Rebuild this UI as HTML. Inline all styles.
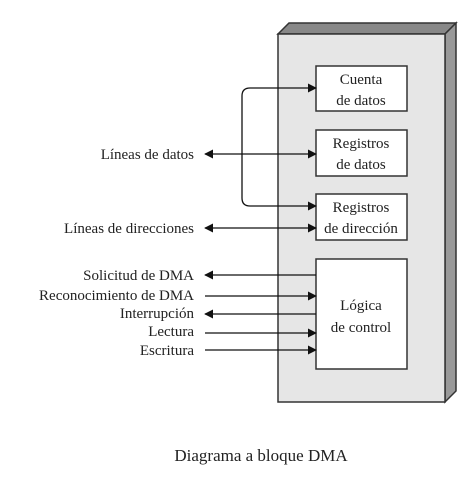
<!DOCTYPE html>
<html><head><style>body{margin:0;background:#fff}svg{display:block}text{font-family:"Liberation Serif",serif;font-size:15px;fill:#222}</style></head>
<body>
<svg width="470" height="482" viewBox="0 0 470 482">
<defs>
<marker id="a" viewBox="0 0 10 10" refX="9" refY="5" markerWidth="9" markerHeight="9" markerUnits="userSpaceOnUse" orient="auto-start-reverse"><path d="M0,0 L10,5 L0,10 Z" fill="#111"/></marker>
</defs>
<polygon points="278,34 289,23 456,23 445,34" fill="#888" stroke="#333" stroke-width="1.5"/>
<polygon points="445,34 456,23 456,391 445,402" fill="#999" stroke="#333" stroke-width="1.5"/>
<rect x="278" y="34" width="167" height="368" fill="#e6e6e6" stroke="#333" stroke-width="1.5"/>
<g fill="#fff" stroke="#333" stroke-width="1.5">
<rect x="316" y="66" width="91" height="45"/>
<rect x="316" y="130" width="91" height="46"/>
<rect x="316" y="194" width="91" height="46"/>
<rect x="316" y="259" width="91" height="110"/>
</g>
<g text-anchor="middle">
<text x="361" y="84">Cuenta</text><text x="361" y="105">de datos</text>
<text x="361" y="148">Registros</text><text x="361" y="169">de datos</text>
<text x="361" y="212">Registros</text><text x="361" y="233">de dirección</text>
<text x="361" y="310">Lógica</text><text x="361" y="332">de control</text>
<text x="261" y="461" style="font-size:17px">Diagrama a bloque DMA</text>
</g>
<g stroke="#111" stroke-width="1.3" fill="none">
<path d="M316,88 H250 Q242,88 242,96 V198 Q242,206 250,206 H316" marker-end="url(#a)" marker-start="url(#a)"/>
<line x1="205" y1="154" x2="316" y2="154" marker-start="url(#a)" marker-end="url(#a)"/>
<line x1="205" y1="228" x2="316" y2="228" marker-start="url(#a)" marker-end="url(#a)"/>
<line x1="316" y1="275" x2="205" y2="275" marker-end="url(#a)"/>
<line x1="205" y1="296" x2="316" y2="296" marker-end="url(#a)"/>
<line x1="316" y1="314" x2="205" y2="314" marker-end="url(#a)"/>
<line x1="205" y1="333" x2="316" y2="333" marker-end="url(#a)"/>
<line x1="205" y1="350" x2="316" y2="350" marker-end="url(#a)"/>
</g>
<g text-anchor="end">
<text x="194" y="159">Líneas de datos</text>
<text x="194" y="233">Líneas de direcciones</text>
<text x="194" y="280">Solicitud de DMA</text>
<text x="194" y="300">Reconocimiento de DMA</text>
<text x="194" y="318">Interrupción</text>
<text x="194" y="336">Lectura</text>
<text x="194" y="355">Escritura</text>
</g>
</svg>
</body></html>
